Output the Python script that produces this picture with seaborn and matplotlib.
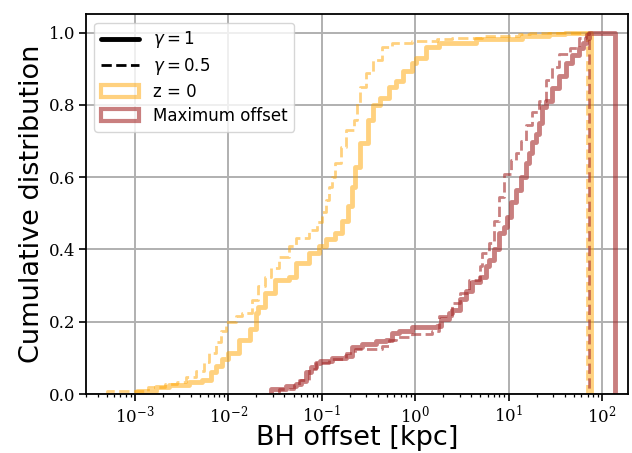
import matplotlib
matplotlib.use("Agg")
import matplotlib.pyplot as plt
from matplotlib.lines import Line2D
from matplotlib.patches import Patch
from matplotlib.colors import to_rgba
import seaborn as sns

# --- DATA: step positions [kpc] and cumulative fraction ---
# z = 0, gamma = 1
Z0_G1_X = [1.05e-3, 1.05e-3, 1.7e-3, 2.3e-3, 3.8e-3, 5.2e-3, 6.5e-3, 7.4e-3, 8.5e-3,
           0.010, 0.013, 0.017, 0.020, 0.021, 0.025, 0.032, 0.045, 0.053, 0.073,
           0.094, 0.11, 0.14, 0.165, 0.19, 0.21, 0.23, 0.26, 0.31, 0.35, 0.42,
           0.53, 0.63, 0.75, 0.93, 1.02, 1.3, 1.8, 4.5, 14, 27, 40, 77, 77]
Z0_G1_Y = [0.0, 0.008, 0.02, 0.025, 0.033, 0.04, 0.06, 0.077, 0.096,
           0.115, 0.15, 0.18, 0.225, 0.24, 0.28, 0.317, 0.325, 0.364, 0.39,
           0.41, 0.43, 0.446, 0.48, 0.52, 0.573, 0.628, 0.694, 0.757, 0.80, 0.82,
           0.85, 0.865, 0.895, 0.915, 0.93, 0.96, 0.972, 0.983, 0.99, 0.997, 1.0, 1.0, 0.0]

# z = 0, gamma = 0.5
Z0_G05_X = [5.0e-4, 5.0e-4, 1.4e-3, 2.1e-3, 2.8e-3, 3.5e-3, 4.5e-3, 5.5e-3, 6.2e-3,
            7.4e-3, 8.3e-3, 9.4e-3, 0.012, 0.014, 0.018, 0.021, 0.025, 0.029, 0.035,
            0.045, 0.053, 0.073, 0.089, 0.10, 0.11, 0.12, 0.13, 0.14, 0.16, 0.18,
            0.22, 0.24, 0.26, 0.30, 0.35, 0.44, 0.57, 0.93, 1.7, 2.5, 5.2, 13, 17,
            69.5, 69.5]
Z0_G05_Y = [0.0, 0.008, 0.02, 0.028, 0.033, 0.047, 0.064, 0.09, 0.115,
            0.143, 0.174, 0.2, 0.215, 0.225, 0.26, 0.30, 0.325, 0.35, 0.38,
            0.41, 0.433, 0.455, 0.477, 0.504, 0.537, 0.573, 0.60, 0.64, 0.683, 0.73,
            0.757, 0.804, 0.85, 0.887, 0.923, 0.96, 0.972, 0.978, 0.983, 0.986, 0.99,
            0.997, 1.0, 1.0, 0.0]

# maximum offset, gamma = 1
MAX_G1_X = [0.029, 0.029, 0.042, 0.053, 0.060, 0.068, 0.077, 0.087, 0.096, 0.13,
            0.18, 0.21, 0.27, 0.38, 0.49, 0.57, 0.67, 0.93, 1.7, 1.9, 2.3, 2.5,
            3.0, 3.5, 4.1, 4.9, 5.8, 6.2, 7.0, 7.9, 9.0, 9.7, 10.7, 12.1, 13.5,
            15.5, 16.6, 17.9, 19.8, 21, 23, 25, 29, 35, 41.5, 48, 57, 62, 68, 73,
            139, 139]
MAX_G1_Y = [0.0, 0.013, 0.022, 0.027, 0.036, 0.06, 0.074, 0.087, 0.092, 0.10,
            0.106, 0.13, 0.138, 0.146, 0.15, 0.17, 0.174, 0.185, 0.188, 0.207, 0.225, 0.234,
            0.262, 0.284, 0.309, 0.325, 0.353, 0.372, 0.40, 0.446, 0.463, 0.49, 0.53, 0.565, 0.60,
            0.64, 0.667, 0.697, 0.72, 0.75, 0.795, 0.81, 0.846, 0.88, 0.917, 0.937, 0.956, 0.972, 0.986, 1.0,
            1.0, 0.0]

# maximum offset, gamma = 0.5
MAX_G05_X = [0.035, 0.035, 0.050, 0.057, 0.073, 0.087, 0.12, 0.18, 0.23, 0.44,
             0.53, 0.63, 0.93, 1.5, 1.8, 2.5, 3.0, 3.8, 4.9, 5.2, 6.2, 7.0, 7.9,
             9.0, 10.7, 12.1, 13.5, 15.5, 17.9, 21, 25, 29, 35, 45, 57, 67, 73, 73]
MAX_G05_Y = [0.0, 0.015, 0.025, 0.04, 0.07, 0.087, 0.097, 0.115, 0.124, 0.133,
             0.15, 0.157, 0.165, 0.174, 0.215, 0.253, 0.28, 0.317, 0.353, 0.39, 0.418, 0.48, 0.545,
             0.61, 0.647, 0.667, 0.70, 0.744, 0.78, 0.81, 0.87, 0.904, 0.94, 0.956, 0.986, 0.997, 1.0, 0.0]

ORANGE = to_rgba("orange", 0.5)
BROWN = to_rgba("brown", 0.6)


def draw_cdf(ax, xs, ys, color, ls, lw):
    sns.lineplot(x=xs, y=ys, ax=ax, estimator=None, sort=False,
                 drawstyle="steps-post", color=color, linestyle=ls, linewidth=lw)


def main():
    sns.set_style("ticks", {"axes.grid": True, "grid.color": "#b0b0b0",
                            "axes.edgecolor": "black", "xtick.color": "black",
                            "ytick.color": "black", "text.color": "black",
                            "axes.labelcolor": "black"})
    plt.rcParams["grid.linewidth"] = 1.4

    fig, ax = plt.subplots(figsize=(6.32, 4.53), dpi=100)
    fig.subplots_adjust(left=0.136, right=0.9937, bottom=0.130, top=0.968)
    ax.set_xscale("log")

    draw_cdf(ax, Z0_G1_X, Z0_G1_Y, ORANGE, "-", 3.5)
    draw_cdf(ax, Z0_G05_X, Z0_G05_Y, ORANGE, "--", 2)
    draw_cdf(ax, MAX_G1_X, MAX_G1_Y, BROWN, "-", 3.5)
    draw_cdf(ax, MAX_G05_X, MAX_G05_Y, BROWN, "--", 2)

    ax.set_xlim(3e-4, 190)
    ax.set_ylim(0, 1.05)
    ax.set_yticks([0.0, 0.2, 0.4, 0.6, 0.8, 1.0])
    ax.set_xlabel("BH offset [kpc]", fontsize=19.5, labelpad=-1)
    ax.set_ylabel("Cumulative distribution", fontsize=19.5, labelpad=3)

    for sp in ax.spines.values():
        sp.set_linewidth(1.3)
        sp.set_color("black")
    ax.tick_params(which="major", length=5, width=1.2, labelsize=12, pad=2.5,
                   labelfontfamily="DejaVu Serif")
    ax.tick_params(which="minor", length=2.5, width=0.9)
    ax.grid(True, which="major", color="#b0b0b0", linewidth=1.4)
    ax.grid(False, which="minor")
    ax.set_axisbelow(True)

    handles = [
        Line2D([], [], color="black", lw=3.5, ls="-", label=r"$\gamma = 1$"),
        Line2D([], [], color="black", lw=2, ls="--", label=r"$\gamma = 0.5$"),
        Patch(facecolor="none", edgecolor=ORANGE, lw=3, label="z = 0"),
        Patch(facecolor="none", edgecolor=BROWN, lw=3, label="Maximum offset"),
    ]
    ax.legend(handles=handles, loc="upper left", fontsize=12, handlelength=2.3,
              labelspacing=0.35, frameon=True, framealpha=0.8, edgecolor="0.8")

    fig.savefig("out.png", dpi=100)


if __name__ == "__main__":
    main()
